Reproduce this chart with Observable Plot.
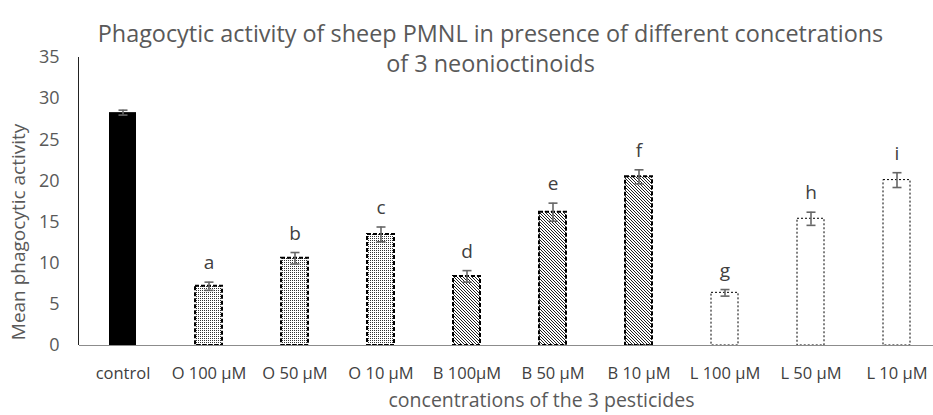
<!DOCTYPE html>
<html>
<head>
<meta charset="utf-8">
<script src="https://cdn.jsdelivr.net/npm/d3@7"></script>
<script src="https://cdn.jsdelivr.net/npm/@observablehq/plot@0.6"></script>
<style>
  html, body { margin: 0; padding: 0; background: #fff; }
  #chart { width: 933px; height: 415px; }
</style>
</head>
<body>
<div id="chart"></div>
<script>
const titleLines = ["Phagocytic activity of sheep PMNL in presence of different concetrations", "of 3 neonioctinoids"];
const yLabel = "Mean phagocytic activity";
const xLabel = "concentrations of the 3 pesticides";
const categories = ["control", "O 100 µM", "O 50 µM", "O 10 µM", "B 100µM", "B 50 µM", "B 10 µM", "L 100 µM", "L 50 µM", "L 10 µM"];
const values = [28.3, 7.2, 10.6, 13.5, 8.4, 16.2, 20.5, 6.4, 15.4, 20.1];
const errors = [0.3, 0.5, 0.7, 0.9, 0.7, 1.1, 0.85, 0.4, 0.8, 0.9];
const letters = ["", "a", "b", "c", "d", "e", "f", "g", "h", "i"];
const groups = ["control", "O", "O", "O", "B", "B", "B", "L", "L", "L"];
const yTicks = [0, 5, 10, 15, 20, 25, 30, 35];

const data = categories.map((c, i) => ({cat: c, v: values[i], e: errors[i], letter: letters[i], group: groups[i]}));

const groupStyle = {
  control: {fill: "black", stroke: "none"},
  O: {fill: "url(#dots)", stroke: "black", strokeWidth: 2, strokeDasharray: "4,2"},
  B: {fill: "url(#hatch)", stroke: "black", strokeWidth: 2, strokeDasharray: "4,2"},
  L: {fill: "white", stroke: "black", strokeWidth: 1, strokeDasharray: "2,2"}
};

const font = "'Open Sans', Lato, sans-serif";
const capSymbol = {draw(context, size) { const w = Math.sqrt(size / Math.PI); context.moveTo(-w, 0); context.lineTo(w, 0); }};

const barMarks = Object.keys(groupStyle).map(g =>
  Plot.barY(data.filter(d => d.group === g), {x: "cat", y: "v", ...groupStyle[g]})
);

const plot = Plot.plot({
  width: 933,
  height: 415,
  marginTop: 57,
  marginBottom: 70,
  marginLeft: 79,
  marginRight: 0,
  style: {fontFamily: font, fontSize: "18px", color: "#595959", background: "white", overflow: "visible"},
  x: {domain: categories, range: [79, 941], paddingInner: 0.685, paddingOuter: 0.3425, axis: null},
  y: {domain: [0, 35], ticks: yTicks, tickSize: 0, tickPadding: 20, label: null},
  marks: [
    ...barMarks,
    Plot.ruleY([0], {stroke: "#8c8c8c", strokeWidth: 1.2}),
    Plot.ruleX(data, {x: "cat", y1: d => d.v - d.e, y2: d => d.v + d.e, stroke: "#666", strokeWidth: 1.6}),
    Plot.dot(data, {x: "cat", y: d => d.v + d.e, symbol: capSymbol, r: 4.5, stroke: "#666", strokeWidth: 1.6, fill: "none"}),
    Plot.dot(data, {x: "cat", y: d => d.v - d.e, symbol: capSymbol, r: 4.5, stroke: "#666", strokeWidth: 1.6, fill: "none"}),
    Plot.text(data, {x: "cat", y: d => d.v + d.e, text: "letter", dy: -19, fontSize: 19, fill: "#404040"}),
    Plot.text(categories, {x: d => d, frameAnchor: "bottom", dy: 33, fontSize: 16.5, fill: "#404040"}),
    Plot.text([xLabel], {frameAnchor: "bottom", dx: 35, dy: 61, fontSize: 19.5, fill: "#595959"}),
    Plot.text([yLabel], {frameAnchor: "left", y: [13.8], dx: -61, rotate: -90, textAnchor: "middle", fontSize: 19, fill: "#595959"}),
    Plot.text([titleLines[0]], {frameAnchor: "top", dx: -16, dy: -32, fontSize: 23.4, fill: "#595959"}),
    Plot.text([titleLines[1]], {frameAnchor: "top", dx: -16, dy: -2, fontSize: 23.4, fill: "#595959"})
  ]
});

// patterns for bar fills
const svg = d3.select(plot.tagName.toLowerCase() === "svg" ? plot : plot.querySelector("svg"));
const defs = svg.insert("defs", ":first-child");
const dots = defs.append("pattern").attr("id", "dots").attr("patternUnits", "userSpaceOnUse").attr("width", 2).attr("height", 2);
dots.append("rect").attr("width", 2).attr("height", 2).attr("fill", "white");
dots.append("rect").attr("width", 1).attr("height", 1).attr("fill", "#333");
const hatch = defs.append("pattern").attr("id", "hatch").attr("patternUnits", "userSpaceOnUse").attr("width", 3).attr("height", 3);
hatch.append("rect").attr("width", 3).attr("height", 3).attr("fill", "white");
hatch.append("path").attr("d", "M-1,-1L4,4M2,-1L4,1M-1,2L1,4").attr("stroke", "#222").attr("stroke-width", 1);

// vertical axis line, positioned from the plot's own scales
const ys = plot.scale("y");
const xs = plot.scale("x");
svg.append("line")
  .attr("x1", xs.range[0] - 0.5).attr("x2", xs.range[0] - 0.5)
  .attr("y1", ys.apply(ys.domain[1])).attr("y2", ys.apply(ys.domain[0]))
  .attr("stroke", "#222").attr("stroke-width", 1);

document.getElementById("chart").appendChild(plot);
</script>
</body>
</html>
